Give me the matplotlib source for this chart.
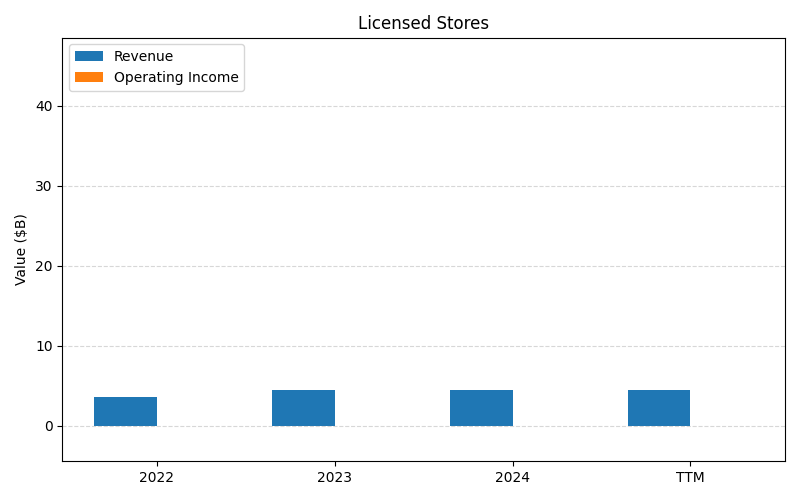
import numpy as np
import matplotlib
matplotlib.use("Agg")
from matplotlib import pyplot as plt

categories = ["2022", "2023", "2024", "TTM"]
revenue = [3.6, 4.5, 4.5, 4.5]
operating_income = [0.0, 0.0, 0.0, 0.0]

x = np.arange(len(categories))
width = 0.35

fig, ax = plt.subplots(figsize=(8, 5), dpi=100)
ax.bar(x - width / 2, revenue, width, label="Revenue", color="#1f77b4")
ax.bar(x + width / 2, operating_income, width, label="Operating Income", color="#ff7f0e")
ax.set_xticks(x)
ax.set_xticklabels(categories)
ax.set_xlim(-0.53, 3.53)
ax.set_ylim(-4.4, 48.5)
ax.set_ylabel("Value ($B)")
ax.set_title("Licensed Stores")
ax.grid(axis="y", linestyle="--", alpha=0.5)
ax.legend(loc="upper left")
fig.subplots_adjust(left=0.078, right=0.981, bottom=0.078, top=0.925)
fig.savefig("out.png")
